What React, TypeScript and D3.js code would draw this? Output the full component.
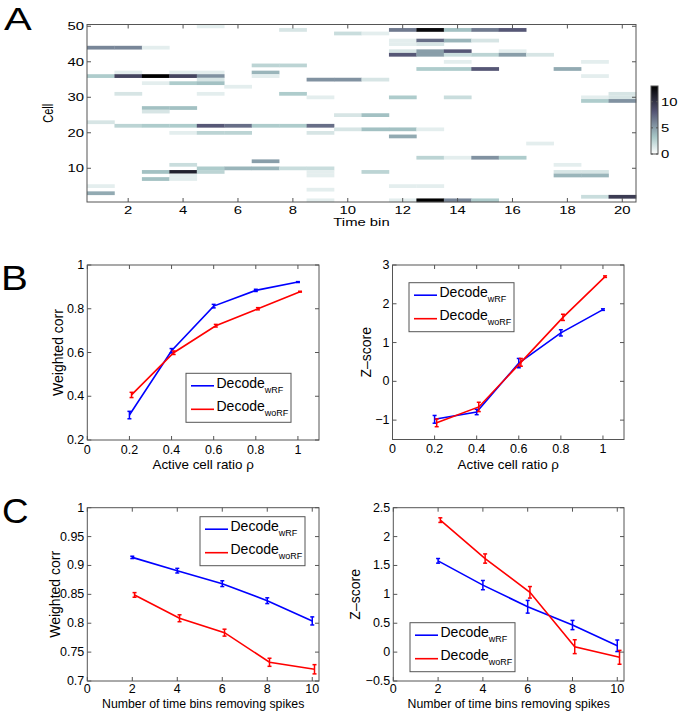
import React from "react";
import * as d3 from "d3";

const FONT = "'Liberation Sans', Arial, Helvetica, sans-serif";

// ---------------- Panel A data ----------------
const timeBins = [1, 2, 3, 4, 5, 6, 7, 8, 9, 10, 11, 12, 13, 14, 15, 16, 17, 18, 19, 20];
const cellIds = d3.range(1, 51);
const heatXTicks = [2, 4, 6, 8, 10, 12, 14, 16, 18, 20];
const heatYTicks = [10, 20, 30, 40, 50];
const colorbarTicks = [0, 5, 10];
const colorMax = 13;
// [time bin, cell, spike count]
const spikeCounts: [number, number, number][] = [
  [5, 50, 1], [8, 49, 1.5], [10, 48, 2], [11, 48, 1],
  [1, 44, 6], [2, 44, 6], [3, 44, 1],
  [7, 39, 2.5], [8, 39, 2.5],
  [7, 37, 4], [2, 37, 1], [4, 37, 1], [5, 37, 1],
  [1, 36, 3], [2, 36, 9], [3, 36, 13], [4, 36, 9], [5, 36, 5.5], [7, 36, 1],
  [5, 35, 1.5], [9, 35, 5.5], [10, 35, 5.5], [11, 35, 1.5],
  [3, 34, 1], [4, 34, 3], [5, 34, 3.5],
  [6, 33, 1],
  [2, 31, 1.5], [5, 31, 1], [8, 31, 3],
  [9, 30, 1],
  [3, 27, 3.5], [4, 27, 3.5], [3, 26, 1.5],
  [10, 25, 1.5], [11, 25, 3.5],
  [1, 23, 1.5],
  [2, 22, 2.5], [3, 22, 3], [4, 22, 3], [5, 22, 8], [6, 22, 7], [7, 22, 3], [8, 22, 3], [9, 22, 7],
  [10, 21, 1.5], [11, 21, 3.5], [12, 21, 3.5], [13, 21, 1],
  [4, 20, 1], [5, 20, 2.5], [6, 20, 2.5], [9, 20, 1.5],
  [7, 12, 5], [4, 11, 2],
  [5, 10, 3], [6, 10, 4], [7, 10, 4], [8, 10, 2], [9, 10, 2],
  [3, 9, 3.5], [4, 9, 11], [5, 9, 2.5], [9, 9, 1], [11, 9, 2.5],
  [4, 8, 1], [9, 8, 1],
  [3, 7, 3.5], [4, 7, 1],
  [1, 5, 1], [9, 4, 1], [1, 3, 4.5], [9, 1, 1],
  [12, 49, 6.5], [13, 49, 12.5], [14, 49, 3.5], [15, 49, 6.5], [16, 49, 8],
  [12, 46, 1], [12, 45, 1], [13, 46, 7], [13, 45, 1.5], [14, 46, 4], [15, 46, 1.5],
  [12, 43, 1.5], [13, 43, 5], [14, 43, 8], [16, 43, 1],
  [12, 42, 8], [13, 42, 5], [14, 42, 2], [15, 42, 2.5], [16, 42, 5], [17, 42, 1.5],
  [14, 40, 1], [19, 40, 1],
  [13, 38, 3], [14, 38, 3], [15, 38, 8], [18, 38, 4.5],
  [19, 36, 1],
  [20, 31, 1.5],
  [12, 30, 3], [14, 30, 2], [19, 30, 1], [20, 30, 1.5],
  [19, 29, 3], [20, 29, 5.5],
  [12, 19, 4.5],
  [17, 17, 1],
  [13, 13, 2.5], [14, 13, 1], [15, 13, 5.5], [16, 13, 3],
  [18, 11, 1],
  [18, 9, 1.5], [19, 9, 1.5],
  [18, 8, 4], [19, 8, 4],
  [12, 5, 1], [13, 5, 1],
  [19, 2, 2], [20, 2, 9.5],
  [12, 1, 1], [13, 1, 13], [14, 1, 6], [15, 1, 3],
];

// ---------------- Panel B data ----------------
const activeRatio = [0.2, 0.4, 0.6, 0.8, 1.0];
const ratioTicks = [0, 0.2, 0.4, 0.6, 0.8, 1];
const bCorrTicks = [0.2, 0.4, 0.6, 0.8, 1];
const bZTicks = [-1, 0, 1, 2, 3];
const bCorrWRF = [0.314, 0.608, 0.812, 0.884, 0.922];
const bCorrWRFErr = [0.017, 0.01, 0.008, 0.005, 0.002];
const bCorrWoRF = [0.406, 0.599, 0.7225, 0.8, 0.878];
const bCorrWoRFErr = [0.012, 0.008, 0.006, 0.005, 0.002];
const bZWRF = [-0.98, -0.79, 0.47, 1.25, 1.85];
const bZWRFErr = [0.1, 0.07, 0.12, 0.08, 0.02];
const bZWoRF = [-1.07, -0.66, 0.49, 1.65, 2.7];
const bZWoRFErr = [0.1, 0.12, 0.1, 0.08, 0.02];

// ---------------- Panel C data ----------------
const removedBins = [2, 4, 6, 8, 10];
const removedTicks = [0, 2, 4, 6, 8, 10];
const cCorrTicks = [0.7, 0.75, 0.8, 0.85, 0.9, 0.95, 1];
const cZTicks = [-0.5, 0, 0.5, 1, 1.5, 2, 2.5];
const cCorrWRF = [0.914, 0.891, 0.8685, 0.839, 0.804];
const cCorrWRFErr = [0.002, 0.004, 0.005, 0.005, 0.007];
const cCorrWoRF = [0.849, 0.8086, 0.7837, 0.7324, 0.7203];
const cCorrWoRFErr = [0.004, 0.006, 0.006, 0.007, 0.008];
const cZWRF = [1.58, 1.16, 0.785, 0.469, 0.11];
const cZWRFErr = [0.04, 0.08, 0.11, 0.08, 0.1];
const cZWoRF = [2.285, 1.62, 1.035, 0.094, -0.09];
const cZWoRFErr = [0.04, 0.08, 0.1, 0.12, 0.12];

const legendNames = ["wRF", "woRF"];
const BLUE = "#0000ff";
const RED = "#ff0000";
const AXIS = "#555";

function fmt(v: number) {
  return String(+v.toFixed(3)).replace("-", "\u2212");
}

// flipped MATLAB "bone" colormap
function boneRev(v: number) {
  const t = 1 - Math.max(0, Math.min(v, colorMax)) / colorMax;
  const c = (u: number) => Math.max(0, Math.min(1, u));
  const hr = c(t / 0.375);
  const hg = c((t - 0.375) / 0.375);
  const hb = c((t - 0.75) / 0.25);
  const r = (7 * t + hb) / 8;
  const g = (7 * t + hg) / 8;
  const b = (7 * t + hr) / 8;
  return d3.rgb(r * 255, g * 255, b * 255).formatHex();
}

function HeatPanel() {
  const L = 87, R = 636, T = 24.5, B = 202;
  const x = d3.scaleLinear().domain([0.5, timeBins.length + 0.5]).range([L, R]);
  const y = d3.scaleLinear().domain([0.5, cellIds.length + 0.5]).range([B, T]);
  const cw = x(1.5) - x(0.5);
  const ch = y(0.5) - y(1.5);
  const sx = 1.35;
  const cbX = 651, cbW = 7, cbT = 86, cbB = 154;
  const cy = d3.scaleLinear().domain([0, colorMax]).range([cbB, cbT]);
  const stops = d3.range(0, 1.0001, 0.05);
  return (
    <g fontFamily={FONT}>
      <defs>
        <linearGradient id="cbgrad" x1="0" y1="1" x2="0" y2="0">
          {stops.map((s) => (
            <stop key={s} offset={s} stopColor={boneRev(s * colorMax)} />
          ))}
        </linearGradient>
      </defs>
      <rect x={L} y={T} width={R - L} height={B - T} fill="#fff" />
      {spikeCounts.map(([bin, cell, v], i) => (
        <rect key={i} x={x(bin - 0.5)} y={y(cell + 0.5)} width={cw + 0.3} height={ch + 0.2} fill={boneRev(v)} />
      ))}
      <rect x={L} y={T} width={R - L} height={B - T} fill="none" stroke={AXIS} strokeWidth={1} />
      {heatXTicks.map((t) => (
        <g key={t}>
          <line x1={x(t)} x2={x(t)} y1={B} y2={B - 4} stroke={AXIS} />
          <line x1={x(t)} x2={x(t)} y1={T} y2={T + 4} stroke={AXIS} />
          <text transform={`translate(${x(t)},214) scale(${sx},1)`} textAnchor="middle" fontSize={11}>{fmt(t)}</text>
        </g>
      ))}
      {heatYTicks.map((t) => (
        <g key={t}>
          <line x1={L} x2={L + 4} y1={y(t)} y2={y(t)} stroke={AXIS} />
          <line x1={R} x2={R - 4} y1={y(t)} y2={y(t)} stroke={AXIS} />
          <text transform={`translate(${L - 3},${y(t) + 4}) scale(${sx},1)`} textAnchor="end" fontSize={11}>{fmt(t)}</text>
        </g>
      ))}
      <text transform={`translate(${(L + R) / 2},226) scale(${sx},1)`} textAnchor="middle" fontSize={11}>Time bin</text>
      <text transform={`translate(53,${(T + B) / 2}) scale(${sx},1) rotate(-90)`} textAnchor="middle" fontSize={11}>Cell</text>
      <rect x={cbX} y={cbT} width={cbW} height={cbB - cbT} fill="url(#cbgrad)" stroke={AXIS} strokeWidth={1} />
      {colorbarTicks.map((t) => (
        <g key={t}>
          <line x1={cbX} x2={cbX + 2} y1={cy(t)} y2={cy(t)} stroke={AXIS} />
          <line x1={cbX + cbW} x2={cbX + cbW - 2} y1={cy(t)} y2={cy(t)} stroke={AXIS} />
          <text transform={`translate(${cbX + cbW + 3},${cy(t) + 4}) scale(${sx},1)`} fontSize={11}>{fmt(t)}</text>
        </g>
      ))}
    </g>
  );
}

type Series = { xs: number[]; ys: number[]; err: number[]; color: string; dx: number };

type PanelProps = {
  box: { left: number; right: number; top: number; bottom: number };
  xDomain: [number, number];
  yDomain: [number, number];
  xTicks: number[];
  yTicks: number[];
  series: Series[];
  legend: { x: number; y: number };
  xLabel: string;
  yLabel: string;
  yLabelX: number;
  xLabelY: number;
  xLabelSize: number;
  xTickDy: number;
};

function LinePanel(p: PanelProps) {
  const { left: L, right: R, top: T, bottom: B } = p.box;
  const x = d3.scaleLinear().domain(p.xDomain).range([L, R]);
  const y = d3.scaleLinear().domain(p.yDomain).range([B, T]);
  const line = d3
    .line<[number, number]>()
    .x((d) => x(d[0]))
    .y((d) => y(d[1]));
  const lw = 105, lh = 49;
  return (
    <g fontFamily={FONT}>
      <rect x={L} y={T} width={R - L} height={B - T} fill="#fff" stroke={AXIS} strokeWidth={1} />
      {p.xTicks.map((t) => (
        <g key={"x" + t}>
          <line x1={x(t)} x2={x(t)} y1={B} y2={B - 4} stroke={AXIS} />
          <line x1={x(t)} x2={x(t)} y1={T} y2={T + 4} stroke={AXIS} />
          <text x={x(t)} y={B + p.xTickDy} textAnchor="middle" fontSize={12.5}>{fmt(t)}</text>
        </g>
      ))}
      {p.yTicks.map((t) => (
        <g key={"y" + t}>
          <line x1={L} x2={L + 4} y1={y(t)} y2={y(t)} stroke={AXIS} />
          <line x1={R} x2={R - 4} y1={y(t)} y2={y(t)} stroke={AXIS} />
          <text x={L - 3} y={y(t) + 4} textAnchor="end" fontSize={12.5}>{fmt(t)}</text>
        </g>
      ))}
      {p.series.map((s, si) => {
        const pts = s.xs.map((v, i) => [v + s.dx, s.ys[i]] as [number, number]);
        return (
          <g key={si}>
            <path d={line(pts) || ""} fill="none" stroke={s.color} strokeWidth={1.6} />
            {pts.map((pt, i) => {
              const cx = x(pt[0]);
              const y1 = y(pt[1] - s.err[i]);
              const y2 = y(pt[1] + s.err[i]);
              return (
                <g key={i} stroke={s.color} strokeWidth={1.5}>
                  <line x1={cx} x2={cx} y1={y1} y2={y2} />
                  <line x1={cx - 2} x2={cx + 2} y1={y1} y2={y1} />
                  <line x1={cx - 2} x2={cx + 2} y1={y2} y2={y2} />
                </g>
              );
            })}
          </g>
        );
      })}
      <g>
        <rect x={p.legend.x} y={p.legend.y} width={lw} height={lh} fill="#fff" stroke={AXIS} strokeWidth={1} />
        {p.series.map((s, i) => {
          const ry = p.legend.y + 12.5 + i * 23.5;
          return (
            <g key={i}>
              <line x1={p.legend.x + 5} x2={p.legend.x + 28} y1={ry} y2={ry} stroke={s.color} strokeWidth={1.6} />
              <text x={p.legend.x + 30.5} y={ry + 1.7} fontSize={14}>
                Decode
                <tspan fontSize={9} dy={5}>{legendNames[i]}</tspan>
              </text>
            </g>
          );
        })}
      </g>
      <text x={(L + R) / 2} y={p.xLabelY} textAnchor="middle" fontSize={p.xLabelSize}>{p.xLabel}</text>
      <text transform={`translate(${p.yLabelX},${(T + B) / 2}) rotate(-90)`} textAnchor="middle" fontSize={14}>{p.yLabel}</text>
    </g>
  );
}

export default function App() {
  return (
    <svg width={685} height={712} style={{ position: "absolute", left: 0, top: 0, background: "#fff" }}>
      <rect width={685} height={712} fill="#fff" />
      <HeatPanel />
      <LinePanel
        box={{ left: 87.3, right: 319, top: 265, bottom: 440 }}
        xDomain={[0, 1.1]}
        yDomain={[0.2, 1]}
        xTicks={ratioTicks}
        yTicks={bCorrTicks}
        series={[
          { xs: activeRatio, ys: bCorrWRF, err: bCorrWRFErr, color: BLUE, dx: 0 },
          { xs: activeRatio, ys: bCorrWoRF, err: bCorrWoRFErr, color: RED, dx: 0.01 },
        ]}
        legend={{ x: 186, y: 373.3 }}
        xLabel={"Active cell ratio \u03c1"}
        yLabel="Weighted corr"
        yLabelX={63}
        xLabelY={469}
        xLabelSize={13.4}
        xTickDy={13.5}
      />
      <LinePanel
        box={{ left: 392.5, right: 624, top: 265, bottom: 439.5 }}
        xDomain={[0, 1.1]}
        yDomain={[-1.5, 3]}
        xTicks={ratioTicks}
        yTicks={bZTicks}
        series={[
          { xs: activeRatio, ys: bZWRF, err: bZWRFErr, color: BLUE, dx: 0 },
          { xs: activeRatio, ys: bZWoRF, err: bZWoRFErr, color: RED, dx: 0.01 },
        ]}
        legend={{ x: 409, y: 282.7 }}
        xLabel={"Active cell ratio \u03c1"}
        yLabel={"Z\u2013score"}
        yLabelX={371}
        xLabelY={469}
        xLabelSize={13.4}
        xTickDy={13.5}
      />
      <LinePanel
        box={{ left: 87.3, right: 319, top: 507.7, bottom: 681 }}
        xDomain={[0, 10.3]}
        yDomain={[0.7, 1]}
        xTicks={removedTicks}
        yTicks={cCorrTicks}
        series={[
          { xs: removedBins, ys: cCorrWRF, err: cCorrWRFErr, color: BLUE, dx: 0 },
          { xs: removedBins, ys: cCorrWoRF, err: cCorrWoRFErr, color: RED, dx: 0.1 },
        ]}
        legend={{ x: 200, y: 516.7 }}
        xLabel="Number of time bins removing spikes"
        yLabel="Weighted corr"
        yLabelX={60}
        xLabelY={707.5}
        xLabelSize={12.3}
        xTickDy={11.5}
      />
      <LinePanel
        box={{ left: 393.3, right: 624, top: 507.7, bottom: 681 }}
        xDomain={[0, 10.3]}
        yDomain={[-0.5, 2.5]}
        xTicks={removedTicks}
        yTicks={cZTicks}
        series={[
          { xs: removedBins, ys: cZWRF, err: cZWRFErr, color: BLUE, dx: 0 },
          { xs: removedBins, ys: cZWoRF, err: cZWoRFErr, color: RED, dx: 0.1 },
        ]}
        legend={{ x: 410, y: 622.7 }}
        xLabel="Number of time bins removing spikes"
        yLabel={"Z\u2013score"}
        yLabelX={360}
        xLabelY={707.5}
        xLabelSize={12.3}
        xTickDy={11.5}
      />
      <text transform="translate(4,30) scale(1.3,1)" fontFamily={FONT} fontSize={32}>A</text>
      <text transform="translate(1,290) scale(1.15,1)" fontFamily={FONT} fontSize={35}>B</text>
      <text transform="translate(2,523) scale(1.05,1)" fontFamily={FONT} fontSize={35}>C</text>
    </svg>
  );
}
